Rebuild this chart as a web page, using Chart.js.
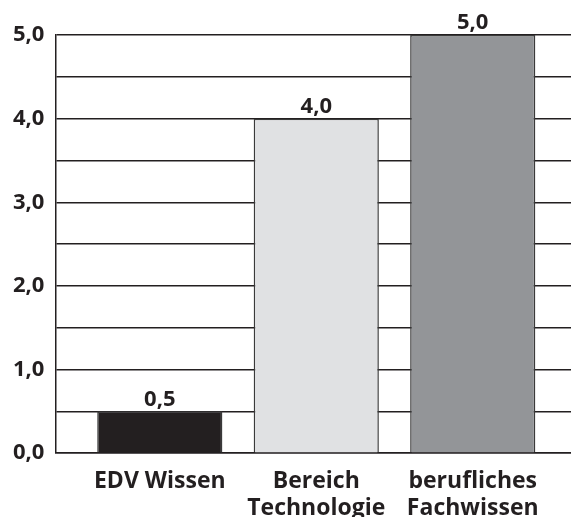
<!DOCTYPE html>
<html>
<head>
<meta charset="utf-8">
<script src="https://cdn.jsdelivr.net/npm/chart.js@4/dist/chart.umd.min.js"></script>
<style>
  html, body { margin: 0; padding: 0; background: #fff; overflow: hidden; }
  #wrap { width: 571px; height: 537px; position: relative; }
</style>
</head>
<body>
<div id="wrap"><canvas id="c"></canvas></div>
<script>
const categories = [["EDV Wissen"], ["Bereich", "Technologie"], ["berufliches", "Fachwissen"]];
const values = [0.5, 4.0, 5.0];
const barColors = ["#231f20", "#e0e1e3", "#939598"];
const yTickValues = [0, 1, 2, 3, 4, 5];

const FONT = "'Open Sans', 'Noto Sans', sans-serif";
const fmt = v => v.toFixed(1).replace('.', ',');

const valueLabels = {
  id: 'valueLabels',
  afterDatasetsDraw(chart) {
    const ctx = chart.ctx;
    const meta = chart.getDatasetMeta(0);
    ctx.save();
    ctx.font = "bold 22px " + FONT;
    ctx.fillStyle = "#231f20";
    ctx.textAlign = "center";
    ctx.textBaseline = "bottom";
    meta.data.forEach((el, i) => {
      ctx.fillText(fmt(values[i]), el.x, el.y - 1);
    });
    ctx.restore();
  }
};

new Chart(document.getElementById('c'), {
  type: 'bar',
  data: {
    datasets: [{
      data: values.map((v, i) => ({ x: i + 1, y: v })),
      backgroundColor: barColors,
      borderColor: "#3a3a3a",
      borderWidth: 1.5,
      barPercentage: 0.8,
      categoryPercentage: 1.0
    }]
  },
  options: {
    responsive: true,
    maintainAspectRatio: false,
    animation: false,
    layout: { padding: { top: 35, right: 0, left: 2, bottom: 0 } },
    plugins: { legend: { display: false }, tooltip: { enabled: false } },
    scales: {
      x: {
        type: 'linear',
        offset: false,
        min: 0.333,
        max: 3.628,
        grid: { display: false, drawTicks: false, offset: false },
        border: { display: true, color: "#231f20", width: 1.5 },
        afterBuildTicks: scale => { scale.ticks = categories.map((c, i) => ({ value: i + 1 })); },
        ticks: {
          autoSkip: false,
          maxRotation: 0,
          padding: 15,
          color: "#231f20",
          font: { family: FONT, size: 23, weight: 'bold', lineHeight: 1.17 },
          callback: v => categories[Math.round(v) - 1]
        }
      },
      y: {
        min: 0,
        max: 5,
        grid: { color: "#231f20", lineWidth: 1.5, drawTicks: false },
        border: { display: true, color: "#231f20", width: 1.5 },
        ticks: {
          stepSize: 0.5,
          padding: 11,
          color: "#231f20",
          font: { family: FONT, size: 22, weight: 'bold' },
          callback: v => (yTickValues.includes(v) ? fmt(v) : '')
        }
      }
    }
  },
  plugins: [valueLabels]
});
</script>
</body>
</html>
